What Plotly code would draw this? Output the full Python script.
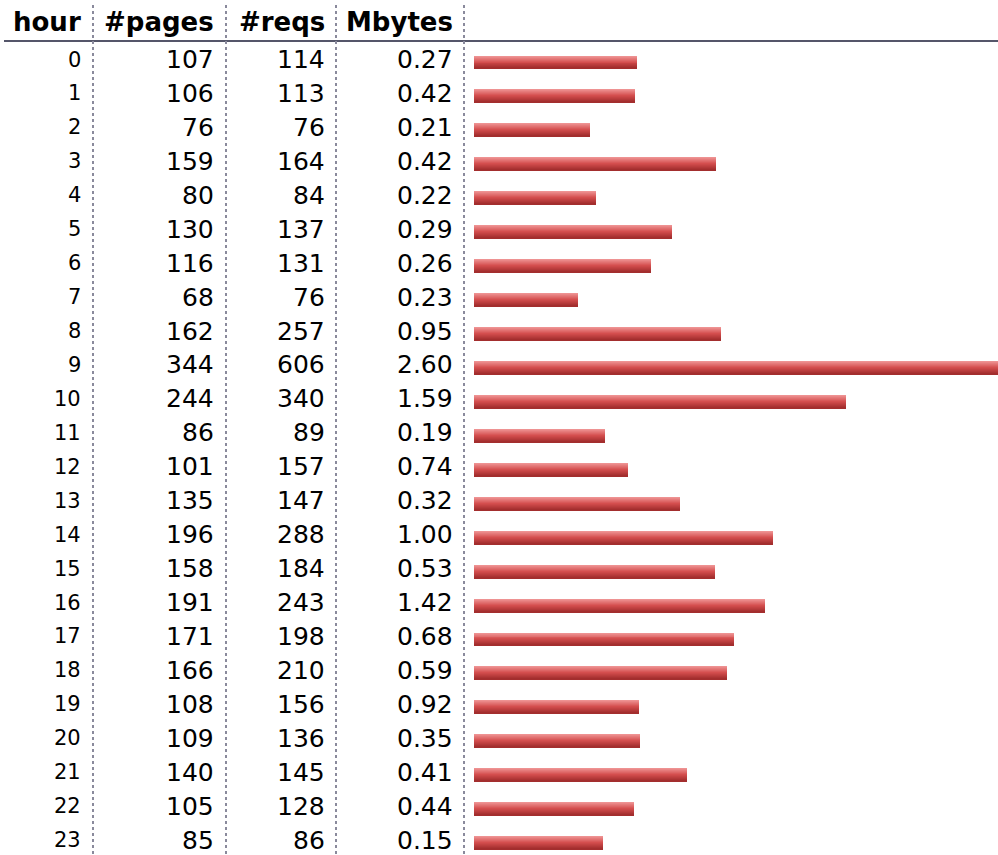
import plotly.graph_objects as go

hours = list(range(24))
pages = [107, 106, 76, 159, 80, 130, 116, 68, 162, 344, 244, 86, 101, 135, 196, 158, 191, 171, 166, 108, 109, 140, 105, 85]
reqs = [114, 113, 76, 164, 84, 137, 131, 76, 257, 606, 340, 89, 157, 147, 288, 184, 243, 198, 210, 156, 136, 145, 128, 86]
mbytes = ["0.27", "0.42", "0.21", "0.42", "0.22", "0.29", "0.26", "0.23", "0.95", "2.60", "1.59", "0.19",
          "0.74", "0.32", "1.00", "0.53", "1.42", "0.68", "0.59", "0.92", "0.35", "0.41", "0.44", "0.15"]
headers = ["hour", "#pages", "#reqs", "Mbytes"]

W, H = 998, 855
ROW0 = 62.5   # pixel center of first row bar
PITCH = 33.94  # row pitch in px


def py(p):
    return (p - ROW0) / PITCH


fig = go.Figure()

# gradient bars made of thin stripes
n = 13
bw = 0.38
top = (0xEE, 0x92, 0x92)
mid = (0xD4, 0x4E, 0x4E)
bot = (0xA3, 0x2E, 0x2E)
for k in range(n):
    t = k / (n - 1)
    if t < 0.5:
        a, b, u = top, mid, t / 0.5
    else:
        a, b, u = mid, bot, (t - 0.5) / 0.5
    c = tuple(round(a[j] + (b[j] - a[j]) * u) for j in range(3))
    fig.add_trace(go.Bar(
        x=pages, y=hours, orientation="h",
        width=bw / n + 0.004, offset=-bw / 2 + k * bw / n,
        marker=dict(color="rgb(%d,%d,%d)" % c, line=dict(width=0)),
        hoverinfo="skip", showlegend=False,
    ))

FONT = "Verdana, DejaVu Sans, sans-serif"
fig.update_layout(
    width=W, height=H, margin=dict(l=0, r=0, t=0, b=0),
    plot_bgcolor="white", paper_bgcolor="white",
    barmode="overlay", bargap=0,
    xaxis=dict(domain=[474 / W, 1], range=[0, max(pages)], visible=False, fixedrange=True),
    yaxis=dict(range=[py(H), py(0)], visible=False, fixedrange=True),
    font=dict(family=FONT, color="black"),
)

col_right = [83, 216, 327, 455]
ann = []
for j, h in enumerate(headers):
    ann.append(dict(x=col_right[j] / W, y=py(22), xref="paper", yref="y", text="<b>%s</b>" % h,
                    showarrow=False, xanchor="right", yanchor="middle",
                    font=dict(size=26, family=FONT, color="black")))
for i in hours:
    cols = [str(hours[i]), str(pages[i]), str(reqs[i]), mbytes[i]]
    for j, t in enumerate(cols):
        ann.append(dict(x=col_right[j] / W, y=i, xref="paper", yref="y", text=t,
                        showarrow=False, xanchor="right", yanchor="middle", yshift=3,
                        font=dict(size=21 if j == 0 else 25, family=FONT, color="black")))
fig.update_layout(annotations=ann)

shapes = [dict(type="line", xref="paper", yref="y", x0=4 / W, x1=1, y0=py(41), y1=py(41),
               line=dict(color="#55566a", width=2))]
for xv in [93, 226, 336, 464]:
    shapes.append(dict(type="line", xref="paper", yref="y", x0=xv / W, x1=xv / W, y0=py(5), y1=py(H),
                       line=dict(color="#8a8a9c", width=2, dash="dot")))
fig.update_layout(shapes=shapes)

fig.write_html("out.html", config={"displayModeBar": False},
               post_script="document.body.style.margin='0';document.body.style.overflow='hidden';")
